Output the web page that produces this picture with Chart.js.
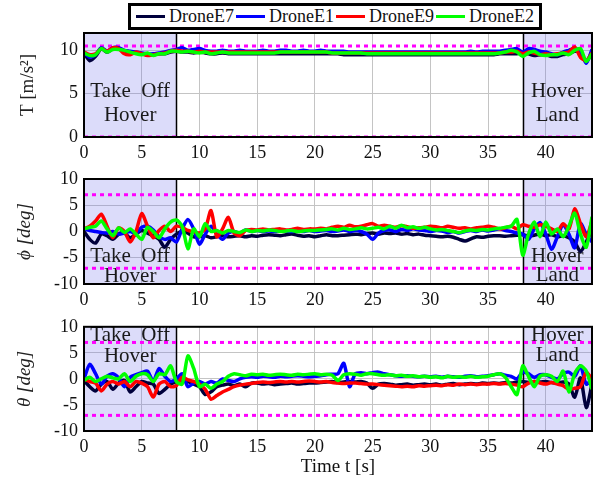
<!DOCTYPE html>
<html>
<head>
<meta charset="utf-8">
<script src="https://cdn.jsdelivr.net/npm/chart.js@4.4.1/dist/chart.umd.min.js"></script>
<style>
  body { margin: 0; background: #fff; width: 600px; height: 485px; position: relative; overflow: hidden; font-family: 'Liberation Serif', serif; }
  .box { position: absolute; left: 0; width: 600px; }
  #legend { position: absolute; left: 128px; top: 3px; width: 414px; height: 27px; box-sizing: border-box; border: 3px solid #000;
            display: flex; align-items: center; justify-content: space-between; padding: 0 5px 0 5px; font-size: 18px; color: #111; background: #fff; }
  .item { display: flex; align-items: center; white-space: nowrap; }
  .swatch { display: inline-block; width: 29px; height: 3px; margin-right: 4px; }
</style>
</head>
<body>
<div id="legend"></div>
<div class="box" style="top:0;height:160px"><canvas id="cT" width="600" height="160"></canvas></div>
<div class="box" style="top:160px;height:150px"><canvas id="cPhi" width="600" height="150"></canvas></div>
<div class="box" style="top:310px;height:175px"><canvas id="cTheta" width="600" height="175"></canvas></div>
<script>
// time [s], 0.5 s steps
const time = [
  0, 0.5, 1, 1.5, 2, 2.5, 3, 3.5, 4, 4.5,
  5, 5.5, 6, 6.5, 7, 7.5, 8, 8.5, 9, 9.5,
  10, 10.5, 11, 11.5, 12, 12.5, 13, 13.5, 14, 14.5,
  15, 15.5, 16, 16.5, 17, 17.5, 18, 18.5, 19, 19.5,
  20, 20.5, 21, 21.5, 22, 22.5, 23, 23.5, 24, 24.5,
  25, 25.5, 26, 26.5, 27, 27.5, 28, 28.5, 29, 29.5,
  30, 30.5, 31, 31.5, 32, 32.5, 33, 33.5, 34, 34.5,
  35, 35.5, 36, 36.5, 37, 37.5, 38, 38.5, 39, 39.5,
  40, 40.5, 41, 41.5, 42, 42.5, 43, 43.5, 44
];

const droneNames = ['DroneE7', 'DroneE1', 'DroneE9', 'DroneE2'];
const droneColors = ['#00003c', '#0000ff', '#ff0000', '#00ff00'];

// thrust T [m/s^2]
const thrustE7 = [
  9.7, 8.8, 9.3, 10.2, 9.8, 10.2, 10.2, 9.9, 9.8, 9.7,
  9.6, 9.5, 9.5, 9.6, 9.6, 9.8, 9.9, 9.8, 9.8, 9.7,
  9.8, 9.7, 9.6, 9.6, 9.7, 9.6, 9.6, 9.6, 9.6, 9.6,
  9.6, 9.6, 9.6, 9.6, 9.6, 9.6, 9.6, 9.6, 9.6, 9.6,
  9.6, 9.6, 9.6, 9.6, 9.6, 9.5, 9.5, 9.5, 9.5, 9.5,
  9.5, 9.5, 9.5, 9.5, 9.5, 9.5, 9.5, 9.5, 9.5, 9.5,
  9.5, 9.5, 9.5, 9.5, 9.5, 9.5, 9.5, 9.5, 9.5, 9.5,
  9.5, 9.5, 9.6, 9.6, 9.6, 9.6, 9.7, 9.6, 9.4, 9.5,
  9.5, 9.3, 9.3, 9.5, 9.6, 9.9, 9.8, 8.7, 9.8
];
const thrustE1 = [
  9.8, 9.2, 9.5, 10.3, 9.9, 10.3, 10.3, 10.0, 9.9, 9.8,
  9.7, 9.6, 9.6, 9.7, 9.8, 10.0, 10.1, 10.3, 10.0, 10.1,
  10.2, 10.0, 9.9, 9.9, 10.0, 9.9, 9.9, 10.0, 9.9, 9.9,
  9.9, 10.0, 9.9, 9.9, 10.0, 10.0, 9.9, 9.9, 10.0, 9.9,
  9.9, 10.0, 9.9, 9.9, 9.9, 9.9, 9.8, 9.8, 9.8, 9.8,
  9.8, 9.8, 9.8, 9.8, 9.8, 9.8, 9.8, 9.8, 9.8, 9.8,
  9.8, 9.8, 9.8, 9.8, 9.8, 9.8, 9.8, 9.9, 9.8, 9.9,
  9.9, 9.9, 9.9, 10.0, 10.1, 10.2, 9.8, 10.2, 10.1, 9.9,
  9.8, 9.6, 9.5, 9.8, 10.0, 10.2, 9.9, 8.5, 10.1
];
const thrustE9 = [
  9.8, 9.5, 9.6, 10.2, 9.9, 10.3, 10.2, 9.6, 9.5, 9.8,
  9.6, 9.4, 9.5, 9.6, 9.7, 9.9, 10.0, 9.9, 9.9, 9.8,
  9.9, 9.8, 9.8, 9.8, 9.8, 9.8, 9.8, 9.8, 9.8, 9.8,
  9.8, 9.8, 9.8, 9.8, 9.8, 9.8, 9.8, 9.8, 9.8, 9.8,
  9.8, 9.8, 9.8, 9.7, 9.7, 9.7, 9.7, 9.7, 9.7, 9.7,
  9.7, 9.7, 9.7, 9.7, 9.7, 9.7, 9.7, 9.7, 9.7, 9.7,
  9.7, 9.7, 9.7, 9.7, 9.7, 9.7, 9.7, 9.7, 9.7, 9.7,
  9.7, 9.7, 9.7, 9.8, 9.8, 9.9, 9.6, 9.8, 9.7, 9.5,
  9.6, 9.5, 9.6, 9.7, 9.8, 10.4, 9.2, 8.8, 9.7
];
const thrustE2 = [
  9.7, 9.4, 9.5, 10.2, 9.8, 10.1, 10.1, 10.0, 9.8, 9.6,
  9.5, 9.7, 9.4, 9.6, 9.6, 9.9, 9.9, 9.8, 9.9, 9.8,
  9.7, 9.8, 9.6, 9.7, 9.8, 9.7, 9.7, 9.7, 9.7, 9.7,
  9.7, 9.7, 9.7, 9.7, 9.8, 9.8, 9.8, 9.8, 9.8, 9.8,
  9.8, 9.8, 9.8, 9.7, 9.7, 9.7, 9.7, 9.7, 9.7, 9.6,
  9.6, 9.6, 9.6, 9.6, 9.6, 9.6, 9.6, 9.6, 9.6, 9.6,
  9.6, 9.6, 9.6, 9.6, 9.6, 9.6, 9.6, 9.6, 9.6, 9.6,
  9.6, 9.6, 9.7, 9.8, 10.0, 9.8, 9.3, 9.7, 9.9, 9.5,
  9.4, 9.5, 9.5, 9.7, 9.5, 10.0, 10.2, 8.7, 9.6
];

// roll phi [deg]
const phiE7 = [
  0, -1.5, -2.2, -0.5, -0.8, -1.5, -0.5, -0.3, -1.2, -0.5,
  0.2, -0.3, -0.8, -1.5, -3.0, -1.5, -0.5, 0, -0.3, -1.0,
  -1.0, -0.8, -1.2, -1.0, -0.8, -1.0, -0.9, -0.8, -1.0, -0.8,
  -0.9, -0.7, -0.6, -0.7, -0.8, -0.6, -0.5, -0.7, -0.9, -0.8,
  -1.0, -0.8, -0.6, -0.8, -0.8, -0.7, -0.6, -0.5, -0.6, -0.4,
  -0.3, -0.5, -0.3, -0.4, -0.3, -0.5, -0.4, -0.6, -0.5, -0.7,
  -0.8, -0.9, -1.0, -0.9, -1.1, -1.5, -1.8, -1.4, -1.0, -1.1,
  -0.9, -0.8, -0.8, -0.9, -0.8, -0.7, -0.6, -0.9, -0.7, -0.5,
  -0.8, -0.6, -1.0, -0.8, -1.2, -2.0, -3.8, -2.0, 0.3
];
const phiE1 = [
  0.5, 0.2, 0, -0.2, -0.3, 0, -0.5, -0.3, 0, -0.4,
  0.8, 1.0, 0.3, -1.0, -1.5, -1.2, -2.0, 0.5, 2.3, 0.5,
  -2.4, -0.5, 1.0, -0.5, -1.5, -0.3, 0, -0.3, 0.3, 0,
  0.2, 0, 0.1, 0, 0.2, 0.1, 0, 0.1, 0, 0.2,
  0, 0.1, 0.2, 0, 0.1, 0.3, 0, 0.2, 0, -0.5,
  -1.5, -0.3, 0.2, 0.3, 0, 0.4, 0.2, 0.5, 0.3, 0.2,
  0, 0.2, 0.1, -0.2, 0, -0.3, 0, 0.2, 0, 0.3,
  0.1, 0.3, 0.5, 0.2, 0, -0.3, -0.5, -1.5, 0.5, 1.7,
  -0.5, -3.4, -1.0, 1.3, -0.5, -3.1, 1.5, -0.5, -2.0
];
const phiE9 = [
  0.5, 1.0, 2.0, 3.3, 1.0, -1.2, 0.7, 0, -2.0, 0,
  3.4, 1.0, -1.2, 0.2, 1.0, 0, 1.0, 0.8, 0.2, 0,
  -0.3, 0.5, 4.0, -1.0, 0.5, 2.7, -0.3, -0.8, 0.2, 0.4,
  0.3, 0.5, 0.3, 0.4, 0.5, 0.3, 0.4, 0.6, 0.4, 0.5,
  0.5, 0.6, 0.5, 0.8, 1.0, 0.8, 1.2, 0.9, 1.0, 1.3,
  1.5, 1.0, 1.2, 1.0, 0.8, 1.1, 0.9, 0.6, 0.7, 0.8,
  1.0, 0.9, 0.7, 1.0, 0.8, 0.6, 0.7, 0.5, 0.7, 0.8,
  1.0, 0.8, 0.5, 0.7, 1.0, 0.5, 1.3, 1.0, 0.8, 1.3,
  1.0, 0.5, 0, 1.5, 0.5, 4.3, 1.5, -1.0, 2.0
];
const phiE2 = [
  0.5, 0.8, 1.0, 2.0, 0.5, -0.8, 0.7, -0.2, 0.5, -0.5,
  -1.5, 0.8, 0, -1.2, 0.5, 1.8, 2.2, 1.0, -3.3, 0.5,
  -1.0, 1.5, 0, 0.2, -0.3, 0.2, 0, -0.2, 0.3, 0,
  0.2, 0.1, 0.3, 0.2, 0, 0.1, 0.2, 0, 0.1, 0.2,
  0.2, 0.3, 0.4, 0.5, 0.3, 0.6, 0.4, 0.5, 0.7, 0.5,
  0.6, 0.8, 0.5, 1.0, 0.6, 1.2, 0.7, 0.9, 0.6, 0.8,
  0.5, 0.3, 0.4, 0.2, 0, -0.2, 0.1, 0.3, 0.2, 0.4,
  0.3, 0.5, 0.6, 0.8, 1.0, 2.3, -4.5, -0.5, 1.8, -1.0,
  1.8, -0.5, 0.5, -1.0, 1.0, 3.5, -0.5, -3.0, 2.8
];

// pitch theta [deg]
const thetaE7 = [
  -0.3, -1.5, -2.3, -1.0, -0.5, -2.0, -0.8, -0.3, -2.5, -1.5,
  -0.5, -0.8, -1.0, -2.8, -2.0, -1.0, -0.5, -0.3, -0.5, -1.0,
  -1.5, -3.0, -2.5, -1.5, -1.2, -1.0, -1.3, -1.0, -1.5, -0.8,
  -0.8, -1.0, -0.9, -1.1, -1.0, -0.9, -0.8, -1.0, -0.9, -0.8,
  -0.8, -0.7, -0.6, -0.5, -0.7, -0.6, -0.5, -0.6, -0.5, -0.8,
  -1.8, -1.0, -0.9, -1.0, -1.2, -1.1, -1.0, -1.2, -1.1, -1.0,
  -1.1, -1.0, -1.2, -1.0, -0.9, -1.1, -1.0, -0.9, -1.0, -0.8,
  -0.9, -0.8, -0.9, -0.7, -0.8, -0.6, -0.5, -0.7, -0.5, -0.6,
  -0.5, -0.7, -0.8, -0.6, -1.0, -3.5, 0.2, -5.5, -1.0
];
const thetaE1 = [
  0, 2.8, 1.0, -1.0, 0.5, 1.0, 0.2, -1.5, 0.3, 0.8,
  1.2, 1.5, -0.5, 2.0, 0.5, -0.5, 0, 1.0, -1.5, -0.8,
  -0.5, -1.0, -0.5, -0.8, 0, -0.3, -0.5, 0, 0.3, 0.4,
  0.3, 0.5, 0.4, 0.3, 0.5, 0.4, 0.5, 0.6, 0.5, 0.4,
  0.5, 0.6, 0.8, 0.9, 1.0, 3.0, -1.5, 1.0, 1.2, 1.0,
  1.2, 1.3, 1.0, 0.8, 0.6, 0.5, 0.6, 0.5, 0.4, 0.5,
  0.4, 0.5, 0.3, 0.5, 0.4, 0.3, 0.5, 0.6, 0.4, 0.5,
  0.6, 0.8, 1.0, 0.7, 0.5, 0, 1.3, 1.0, 0.3, 0.8,
  0.8, 0.3, 0, 1.0, 1.3, 0.5, 2.5, -1.0, 0
];
const thetaE9 = [
  0, -0.5, -0.8, -2.3, -1.0, -0.5, -1.0, -0.5, -1.5, -0.5,
  -0.8, -1.5, -3.5, -1.0, -0.5, -1.5, -1.3, 0.3, -0.2, -0.5,
  -1.0, -2.0, -3.9, -3.2, -2.5, -2.0, -1.5, -1.2, -1.0, -0.9,
  -0.7, -0.6, -0.7, -0.6, -0.5, -0.6, -0.5, -0.6, -0.5, -0.4,
  -0.5, -0.6, -0.5, -0.7, -0.8, -0.9, -0.8, -0.8, -0.9, -1.0,
  -1.0, -1.1, -1.2, -1.3, -1.4, -1.5, -1.4, -1.5, -1.3, -1.4,
  -1.3, -1.2, -1.3, -1.1, -1.2, -1.0, -1.1, -1.0, -1.1, -1.0,
  -1.0, -0.9, -1.0, -0.9, -1.0, -1.2, -1.5, -0.8, -0.5, -0.8,
  -1.0, -0.7, -1.0, -1.3, -2.0, -1.8, -1.5, 1.3, 0
];
const thetaE2 = [
  -0.3, 0.3, -0.5, 0, 0.5, 0.2, 0, 1.0, -0.5, 0.5,
  1.0, 0.8, -0.5, 1.0, 0.8, 2.5, -0.5, -1.0, 4.4, 2.0,
  -1.5, -1.0, -1.8, -1.0, -0.5, 0.5, 1.0, 0.8, 0.6, 0.9,
  0.8, 0.9, 0.7, 0.8, 0.9, 0.8, 0.7, 0.9, 0.8, 0.9,
  1.0, 0.8, 0.9, 0.7, -0.3, 0.8, 1.0, 0.9, 0.7, 1.0,
  1.0, 0.8, 0.7, 0.8, 0.6, 0.7, 0.5, 0.6, 0.4, 0.5,
  0.3, 0.4, 0.2, 0.5, 0.3, 0.4, 0.3, 0.5, 0.3, 0.4,
  0.5, 0.8, 1.0, 0.3, -1.5, -3.0, 2.5, 0.5, -1.5, 0.5,
  0.8, 0.5, -0.5, 1.5, -2.5, 1.0, 2.5, 1.5, -2.0
];

// limits (magenta dotted) and tick labels
const thrustLimits = [10.5, 0];
const angleLimits = [7, -7];
const xTickValues = [0, 5, 10, 15, 20, 25, 30, 35, 40];
const thrustTickValues = [0, 5, 10];
const angleTickValues = [-10, -5, 0, 5, 10];

// flight phases
const phaseRanges = [[0, 8], [38, 44]];
const phaseNames = [['Take  Off', 'Hover'], ['Hover', 'Land']];

const serif = "'Liberation Serif', serif";

// legend
const legendEl = document.getElementById('legend');
droneNames.forEach((n, i) => {
  const it = document.createElement('span');
  it.className = 'item';
  it.innerHTML = '<span class="swatch" style="background:' + droneColors[i] + '"></span>' + n;
  legendEl.appendChild(it);
});

const phasePlugin = {
  id: 'phases',
  beforeDatasetsDraw(chart, args, opts) {
    const { ctx, chartArea: a, scales: { x, y } } = chart;
    ctx.save();
    ctx.fillStyle = 'rgba(110,110,235,0.24)';
    phaseRanges.forEach(r => {
      const x0 = x.getPixelForValue(r[0]), x1 = x.getPixelForValue(r[1]);
      ctx.fillRect(x0, a.top, x1 - x0, a.height);
    });
    ctx.strokeStyle = '#000';
    ctx.lineWidth = 1.5;
    [phaseRanges[0][1], phaseRanges[1][0]].forEach(v => {
      const px = Math.round(x.getPixelForValue(v)) + 0.5;
      ctx.beginPath();
      ctx.moveTo(px, a.top);
      ctx.lineTo(px, a.bottom);
      ctx.stroke();
    });
    ctx.fillStyle = '#1a1a1a';
    ctx.font = '21px ' + serif;
    ctx.textAlign = 'center';
    ctx.textBaseline = 'middle';
    phaseRanges.forEach((r, i) => {
      const cx = (x.getPixelForValue(r[0]) + x.getPixelForValue(r[1])) / 2;
      phaseNames[i].forEach((t, j) => {
        ctx.fillText(t, cx, y.getPixelForValue(opts.labelY[i][j]));
      });
    });
    ctx.restore();
  },
  afterDraw(chart) {
    const { ctx, chartArea: a } = chart;
    ctx.save();
    ctx.strokeStyle = '#000';
    ctx.lineWidth = 2;
    ctx.strokeRect(a.left, a.top, a.right - a.left, a.bottom - a.top);
    ctx.restore();
  }
};

function makeChart(id, series, limits, yMin, yMax, yTicks, cfg) {
  const datasets = series.map((s, i) => ({
    label: droneNames[i],
    data: s,
    borderColor: droneColors[i],
    borderWidth: 3.5,
    pointRadius: 0,
    tension: 0.25,
    fill: false,
    order: 4 - i
  }));
  limits.forEach(v => {
    datasets.push({
      label: 'limit',
      data: [{ x: time[0], y: v }, { x: time[time.length - 1], y: v }],
      borderColor: '#ff00ff',
      borderWidth: 3,
      borderDash: [4, 4],
      pointRadius: 0,
      order: 5
    });
  });
  return new Chart(document.getElementById(id), {
    type: 'line',
    data: { labels: time, datasets },
    plugins: [phasePlugin],
    options: {
      responsive: false,
      animation: false,
      events: [],
      layout: { padding: { top: cfg.top, right: 8, left: 0, bottom: 0 } },
      plugins: {
        legend: { display: false },
        tooltip: { enabled: false },
        phases: { labelY: cfg.labelY }
      },
      scales: {
        x: {
          type: 'linear',
          min: 0,
          max: 44,
          afterBuildTicks: s => { s.ticks = xTickValues.map(v => ({ value: v })); },
          afterFit: s => { s.height = cfg.xHeight; },
          grid: { color: '#c4c4c4', lineWidth: 1, drawTicks: false },
          border: { display: false },
          ticks: { padding: 5, color: '#111', font: { family: serif, size: 18 }, maxRotation: 0 },
          title: cfg.xTitle ? { display: true, text: cfg.xTitle, color: '#111', font: { family: serif, size: 19 }, padding: { top: 0, bottom: 7 } } : { display: false }
        },
        y: {
          min: yMin,
          max: yMax,
          afterBuildTicks: s => { s.ticks = yTicks.map(v => ({ value: v })); },
          afterFit: s => { s.width = 84; },
          grid: { color: '#c4c4c4', lineWidth: 1, drawTicks: false },
          border: { display: false },
          ticks: { padding: 6, color: '#111', font: { family: serif, size: 18 } },
          title: { display: true, text: cfg.yTitle, color: '#222', font: { family: serif, size: 19, style: cfg.italic ? 'italic' : 'normal' }, padding: { top: cfg.titlePad, bottom: 0 } }
        }
      }
    }
  });
}

makeChart('cT', [thrustE7, thrustE1, thrustE9, thrustE2], thrustLimits, 0, 12, thrustTickValues, {
  top: 33, xHeight: 23, yTitle: 'T [m/s²]', titlePad: 17, italic: false,
  labelY: [[5.2, 2.5], [5.2, 2.5]]
});
makeChart('cPhi', [phiE7, phiE1, phiE9, phiE2], angleLimits, -10, 10, angleTickValues, {
  top: 19, xHeight: 26, yTitle: 'ϕ [deg]', titlePad: 14, italic: true,
  labelY: [[-4.7, -8.5], [-4.7, -8.4]]
});
makeChart('cTheta', [thetaE7, thetaE1, thetaE9, thetaE2], angleLimits, -10, 10, angleTickValues, {
  top: 16, xHeight: 54, yTitle: 'θ [deg]', titlePad: 14, italic: true, xTitle: 'Time t [s]',
  labelY: [[8.4, 4.3], [8.3, 4.4]]
});
</script>
</body>
</html>
